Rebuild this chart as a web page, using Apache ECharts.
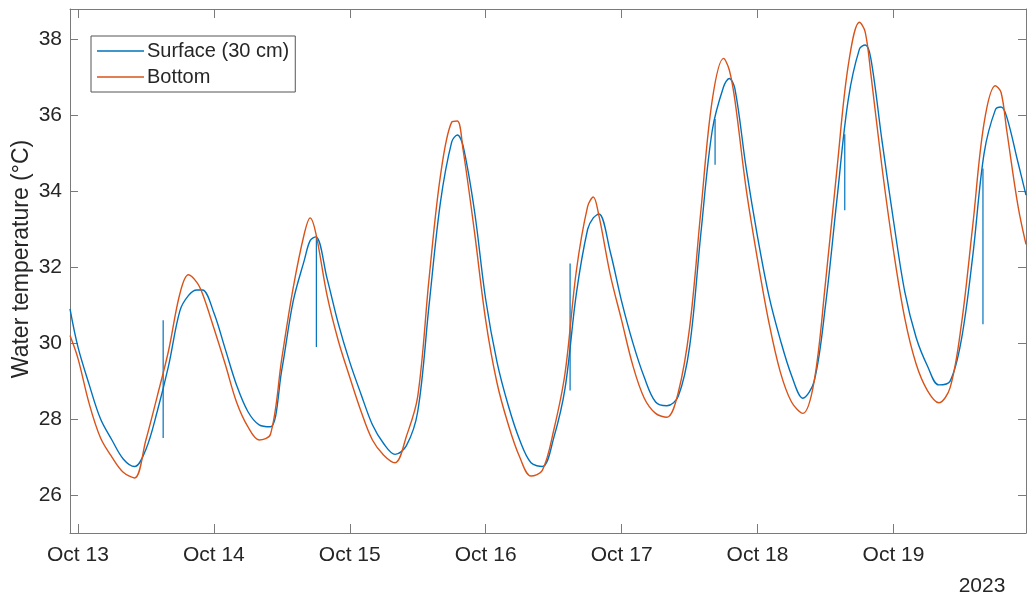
<!DOCTYPE html>
<html>
<head>
<meta charset="utf-8">
<script src="https://cdn.jsdelivr.net/npm/echarts@6/dist/echarts.min.js"></script>
<style>
  html, body { margin: 0; padding: 0; background: #fff; }
  #chart { width: 1029px; height: 603px; }
</style>
</head>
<body>
<div id="chart"></div>
<script>
// hours since 2023-10-13 00:00 (local), shared by both loggers
const hours = [
    -1.4, 0, 2, 4, 6, 8, 10, 12, 14, 16, 18, 19.5, 21, 22,
    24, 26, 28, 30, 32, 34, 36, 38, 40, 41, 42, 44, 46,
    48, 50, 52, 54, 56, 58, 60, 62, 64, 66, 67, 68, 70,
    72, 74, 76, 78, 80, 82, 84, 86, 88, 90, 91, 92, 94,
    96, 98, 100, 102, 104, 106, 108, 110, 112, 114, 115, 116, 118,
    120, 122, 124, 126, 128, 130, 132, 134, 136, 138, 139, 140, 142,
    144, 146, 148, 150, 152, 154, 156, 158, 160, 162, 163, 164, 166, 167.4
];
const surface = [
    30.9, 29.9, 28.9, 28.0, 27.45, 26.95, 26.75, 27.2, 28.2, 29.4, 30.85, 31.25, 31.4, 31.4,
    30.8, 29.85, 28.9, 28.2, 27.85, 27.8, 29.3, 31.1, 32.2, 32.7, 32.8, 31.7, 30.5,
    29.5, 28.65, 27.85, 27.35, 27.07, 27.3, 28.2, 31.0, 33.7, 35.3, 35.48, 35.2, 33.5,
    31.15, 29.5, 28.35, 27.45, 26.85, 26.75, 27.5, 28.8, 31.3, 33.0, 33.3, 33.4, 32.4,
    31.1, 30.0, 29.1, 28.45, 28.35, 28.6, 29.9, 32.9, 35.6, 36.75, 36.97, 36.7, 34.6,
    32.8, 31.25, 30.1, 29.15, 28.55, 29.0, 31.0, 33.76, 36.4, 37.75, 37.85, 37.5, 35.3,
    33.23, 31.35, 30.15, 29.4, 28.9, 29.0, 30.1, 32.3, 35.0, 36.15, 36.22, 35.96, 34.75, 33.9
];
const bottom = [
    30.2, 29.6, 28.4, 27.5, 27.0, 26.6, 26.45, 27.45, 28.6, 29.8, 31.3, 31.8, 31.6, 31.3,
    30.4, 29.45, 28.45, 27.8, 27.45, 27.6, 29.6, 31.45, 32.9, 33.3, 32.9, 31.25, 30.05,
    29.1, 28.2, 27.45, 27.05, 26.85, 27.55, 28.6, 31.7, 34.4, 35.82, 35.85, 35.1, 32.95,
    30.6, 28.95, 27.85, 27.0, 26.5, 26.65, 27.7, 29.2, 31.9, 33.6, 33.85, 33.35, 31.8,
    30.6, 29.4, 28.55, 28.15, 28.05, 28.7, 30.4, 33.5, 36.4, 37.5, 37.2, 36.4, 34.05,
    32.2, 30.55, 29.25, 28.45, 28.15, 29.0, 31.6, 34.55, 37.3, 38.45, 38.2, 37.1, 34.6,
    32.44, 30.65, 29.45, 28.75, 28.43, 28.83, 30.5, 33.1, 35.8, 36.78, 36.6, 35.6, 33.6, 32.6
];
// short single-reading glitches in the surface logger
const spikeHours = [15.05, 42.1, 86.9, 112.5, 135.4, 159.8];
const spikeFrom  = [30.6, 32.8, 28.75, 35.9, 35.5, 34.6];
const spikeTo    = [27.5, 29.9, 32.1, 34.7, 33.5, 30.5];

const yearLabel = '2023';
const months = ['Jan', 'Feb', 'Mar', 'Apr', 'May', 'Jun', 'Jul', 'Aug', 'Sep', 'Oct', 'Nov', 'Dec'];

const HOUR = 3600 * 1000;
const DAY = 24 * HOUR;
const base = new Date(2023, 9, 13).getTime();
const toTime = h => base + h * HOUR;

const surfaceData = hours.map((h, i) => [toTime(h), surface[i]]);
const bottomData = hours.map((h, i) => [toTime(h), bottom[i]]);
const spikeData = [];
spikeHours.forEach((h, i) => {
    spikeData.push([toTime(h), spikeFrom[i]]);
    spikeData.push([toTime(h), spikeTo[i]]);
    spikeData.push([toTime(h), '-']);
});

const BLUE = '#0072BD';
const ORANGE = '#D95319';
const AXIS = '#7a7a7a';
const TEXT = '#262626';
const FONT = 'Liberation Sans, Arial, sans-serif';

const xMin = toTime(hours[0]);
const xMax = toTime(hours[hours.length - 1]);

const chart = echarts.init(document.getElementById('chart'), null, { renderer: 'canvas' });

const baseX = {
    type: 'time',
    min: xMin,
    max: xMax,
    minInterval: DAY,
    maxInterval: DAY,
    axisLine: { show: true, onZero: false, lineStyle: { color: AXIS, width: 1 } },
    axisTick: { show: true, inside: true, length: 9, lineStyle: { color: AXIS } },
    splitLine: { show: false }
};
const baseY = {
    type: 'value',
    min: 25,
    max: 38.8,
    splitNumber: 7,
    axisLine: { show: true, onZero: false, lineStyle: { color: AXIS, width: 1 } },
    axisTick: { show: true, inside: true, length: 8, lineStyle: { color: AXIS } },
    splitLine: { show: false }
};

const option = {
    animation: false,
    backgroundColor: '#fff',
    textStyle: { fontFamily: FONT },
    grid: { left: 70, right: 3, top: 9, bottom: 70, containLabel: false },
    legend: {
        orient: 'vertical',
        left: 91,
        top: 36,
        padding: [4, 6, 4, 6],
        icon: 'rect',
        itemWidth: 47,
        itemHeight: 1.5,
        itemGap: 4,
        backgroundColor: '#fff',
        borderColor: '#555',
        borderWidth: 1,
        borderRadius: 0,
        textStyle: { fontSize: 20, color: TEXT, fontFamily: FONT, lineHeight: 22, padding: [0, 0, 0, -2] },
        data: ['Surface (30 cm)', 'Bottom']
    },
    xAxis: [
        Object.assign({}, baseX, {
            position: 'bottom',
            axisLabel: {
                show: true,
                color: TEXT,
                fontSize: 21,
                fontFamily: FONT,
                margin: 12,
                showMinLabel: false,
                showMaxLabel: false,
                formatter: function (value) {
                    const d = new Date(value);
                    if (d.getHours() !== 0 || d.getMinutes() !== 0) return '';
                    return months[d.getMonth()] + ' ' + d.getDate();
                }
            }
        }),
        Object.assign({}, baseX, { position: 'top', axisLabel: { show: false } })
    ],
    yAxis: [
        Object.assign({}, baseY, {
            position: 'left',
            axisLabel: {
                show: true,
                color: TEXT,
                fontSize: 21,
                fontFamily: FONT,
                margin: 8,
                showMinLabel: false,
                showMaxLabel: false
            }
        }),
        Object.assign({}, baseY, { position: 'right', axisLabel: { show: false } })
    ],
    graphic: [
        {
            type: 'text',
            x: 22,
            y: 259,
            rotation: Math.PI / 2,
            style: {
                text: 'Water temperature (°C)',
                font: '23px ' + FONT,
                fill: TEXT,
                align: 'center',
                verticalAlign: 'middle'
            }
        },
        {
            type: 'text',
            x: 982,
            y: 586,
            style: {
                text: yearLabel,
                font: '21px ' + FONT,
                fill: TEXT,
                align: 'center',
                verticalAlign: 'middle'
            }
        }
    ],
    series: [
        {
            name: 'Surface (30 cm)',
            type: 'line',
            data: surfaceData,
            symbol: 'none',
            smooth: 0.35,
            lineStyle: { color: BLUE, width: 1.4 },
            itemStyle: { color: BLUE },
            z: 2
        },
        {
            name: 'Surface (30 cm)',
            type: 'line',
            data: spikeData,
            symbol: 'none',
            connectNulls: false,
            lineStyle: { color: BLUE, width: 1.2 },
            itemStyle: { color: BLUE },
            z: 2
        },
        {
            name: 'Bottom',
            type: 'line',
            data: bottomData,
            symbol: 'none',
            smooth: 0.35,
            lineStyle: { color: ORANGE, width: 1.4 },
            itemStyle: { color: ORANGE },
            z: 3
        }
    ]
};

chart.setOption(option);
window.addEventListener('resize', function () {
    chart.resize();
});
</script>
</body>
</html>
